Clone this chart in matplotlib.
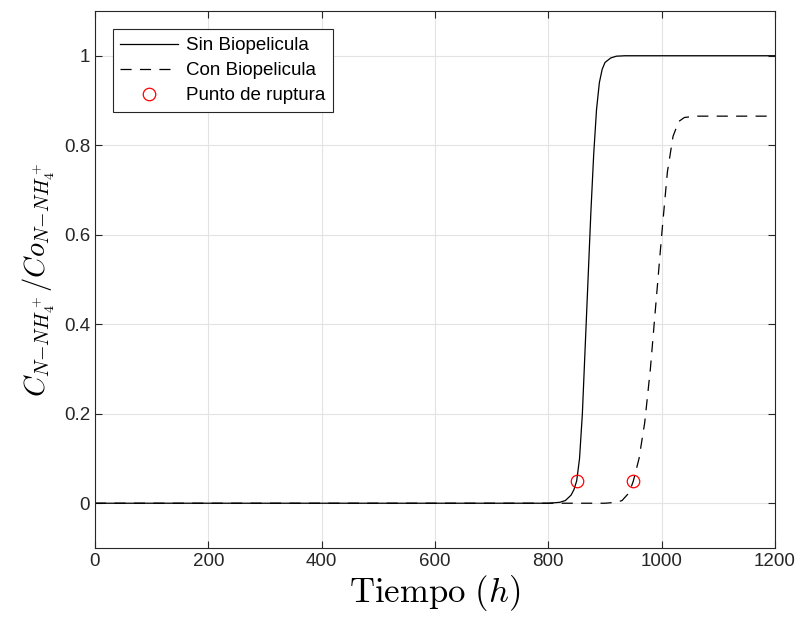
import numpy as np
import matplotlib
matplotlib.use('Agg')
import matplotlib.pyplot as plt

# curve readings (time in h, normalised concentration)
t_sin = [0, 800, 820, 830, 840, 845, 850, 855, 860, 865, 870, 875, 880, 885, 890, 895, 900, 910, 920, 935, 1200]
c_sin = [0, 0, 0.002, 0.006, 0.018, 0.03, 0.05, 0.10, 0.20, 0.35, 0.50, 0.65, 0.78, 0.88, 0.94, 0.97, 0.985, 0.995, 0.999, 1.0, 1.0]

t_con = [0, 900, 920, 930, 940, 945, 950, 960, 970, 980, 990, 1000, 1010, 1020, 1030, 1040, 1060, 1200]
c_con = [0, 0, 0.002, 0.006, 0.02, 0.032, 0.05, 0.10, 0.18, 0.30, 0.45, 0.60, 0.74, 0.82, 0.853, 0.862, 0.865, 0.865]

t_rup = [850, 950]
c_rup = [0.05, 0.05]

labels = ['Sin Biopelicula', 'Con Biopelicula', 'Punto de ruptura']

plt.rcParams['font.family'] = ['Liberation Sans', 'DejaVu Sans']
plt.rcParams['mathtext.fontset'] = 'cm'
plt.rcParams['lines.scale_dashes'] = False

fig = plt.figure(figsize=(8.01, 6.21), dpi=100)
ax = fig.add_axes([0.1186, 0.1176, 0.849, 0.8647])

ax.plot(t_sin, c_sin, color='black', lw=0.9, label=labels[0])
ax.plot(t_con, c_con, color='black', lw=0.9, dashes=(8, 6), label=labels[1])
ax.plot(t_rup, c_rup, 'o', mfc='none', mec='red', ms=9, mew=0.9, ls='none', label=labels[2])

ax.set_xlim(0, 1200)
ax.set_ylim(-0.1, 1.1)
ax.set_xticks(np.arange(0, 1201, 200))
ax.set_yticks([0, 0.2, 0.4, 0.6, 0.8, 1.0])
ax.set_yticklabels(['0', '0.2', '0.4', '0.6', '0.8', '1'])

ax.grid(True, color='#e3e3e3', lw=0.8)
ax.set_axisbelow(True)
for s in ax.spines.values():
    s.set_color('#262626')
    s.set_linewidth(0.8)
ax.tick_params(direction='in', top=True, right=True, labelsize=13.5, colors='#262626', length=5, width=0.8)

ax.set_xlabel(r'$\mathrm{Tiempo}\ (h)$', fontsize=25, labelpad=2)
ax.set_ylabel(r'$C_{N{-}NH_4^+}/Co_{N{-}NH_4^+}$', fontsize=20.5, labelpad=5)

leg = ax.legend(loc='upper left', fontsize=13.5, handlelength=3.1, handletextpad=0.4,
                labelspacing=0.42, borderpad=0.4, fancybox=False, framealpha=1,
                edgecolor='#262626', bbox_to_anchor=(0.012, 0.983))
leg.get_frame().set_linewidth(0.8)

fig.savefig('out.png', dpi=100)
